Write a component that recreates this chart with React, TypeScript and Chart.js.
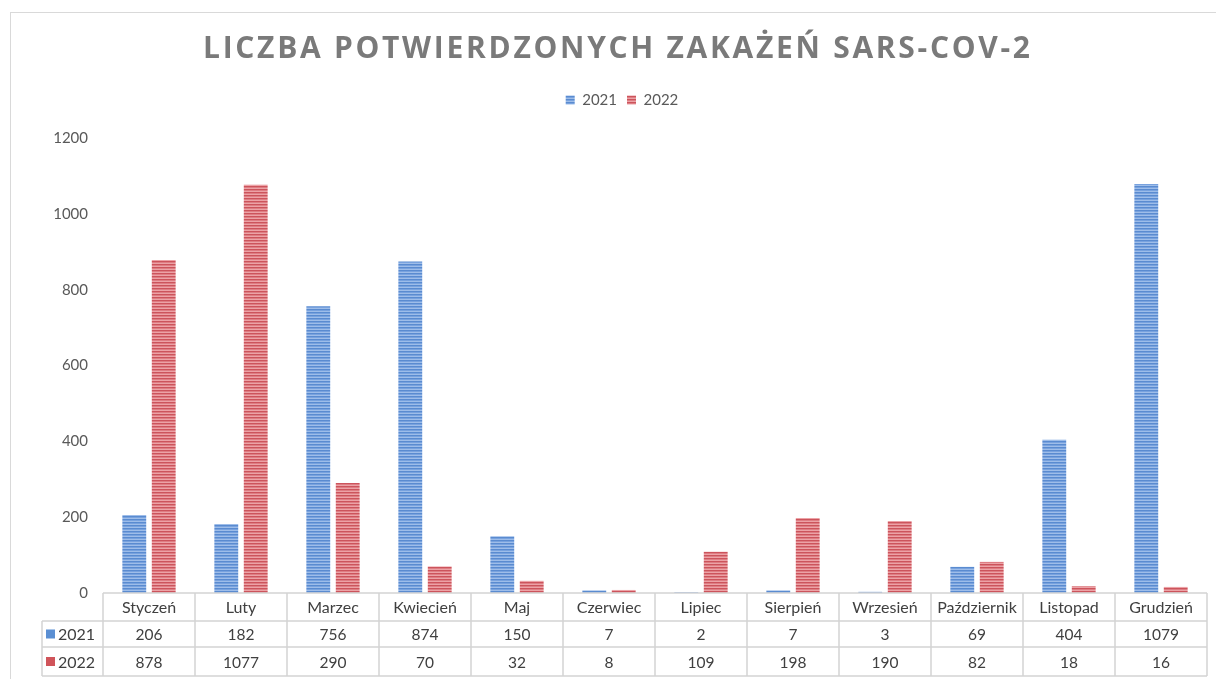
import React, { useEffect, useRef } from "react";
import { Chart, registerables } from "chart.js";

Chart.register(...registerables);

const TITLE = "LICZBA POTWIERDZONYCH ZAKAŻEŃ SARS-COV-2";
const categories = ["Styczeń", "Luty", "Marzec", "Kwiecień", "Maj", "Czerwiec", "Lipiec", "Sierpień", "Wrzesień", "Październik", "Listopad", "Grudzień"];
const seriesNames = ["2021", "2022"];
const values2021 = [206, 182, 756, 874, 150, 7, 2, 7, 3, 69, 404, 1079];
const values2022 = [878, 1077, 290, 70, 32, 8, 109, 198, 190, 82, 18, 16];
const yTicks = [0, 200, 400, 600, 800, 1000, 1200];

const FONT = "Lato, 'Open Sans', sans-serif";

function stripePattern(colors: string[]): CanvasPattern | string {
  const c = document.createElement("canvas");
  c.width = 4;
  c.height = colors.length;
  const g = c.getContext("2d");
  if (!g) return colors[0];
  colors.forEach((col, i) => {
    g.fillStyle = col;
    g.fillRect(0, i, 4, 1);
  });
  const p = g.createPattern(c, "repeat");
  return p || colors[0];
}

const legendSpacer = {
  id: "legendSpacer",
  beforeInit(chart: any) {
    const orig = chart.legend.fit;
    chart.legend.fit = function () {
      orig.bind(chart.legend)();
      this.height += 20.5;
    };
  },
};

const tablePlugin = {
  id: "tablePlugin",
  afterDraw(chart: any) {
    const ctx = chart.ctx as CanvasRenderingContext2D;
    const { left, right, bottom } = chart.chartArea;
    const xs = chart.scales.x;
    const n = categories.length;
    const cw = (right - left) / n;
    ctx.save();

    // outer frame
    ctx.strokeStyle = "#d9d9d9";
    ctx.lineWidth = 1;
    ctx.strokeRect(10.5, 12.5, 1240, 700);

    // title
    ctx.font = `bold 30px 'Open Sans', sans-serif`;
    ctx.fillStyle = "#7a7a7a";
    ctx.textBaseline = "middle";
    ctx.textAlign = "left";
    (ctx as any).letterSpacing = "0px";
    const w0 = ctx.measureText(TITLE).width;
    const targetW = 827;
    const ls = (targetW - w0) / (TITLE.length - 1);
    (ctx as any).letterSpacing = `${ls}px`;
    ctx.fillText(TITLE, 203, 49);
    (ctx as any).letterSpacing = "0px";

    // table grid
    const r0 = bottom;
    const r1 = bottom + 28;
    const r2 = bottom + 54;
    const r3 = bottom + 83;
    const tl = 42;
    ctx.strokeStyle = "#d4d4d4";
    ctx.lineWidth = 1.5;
    ctx.beginPath();
    ctx.moveTo(left, r0);
    ctx.lineTo(right, r0);
    [r1, r2, r3].forEach((y) => {
      ctx.moveTo(tl, y);
      ctx.lineTo(right, y);
    });
    ctx.moveTo(tl, r1);
    ctx.lineTo(tl, r3);
    for (let i = 0; i <= n; i++) {
      const x = i < n ? xs.getPixelForValue(i) - cw / 2 : xs.getPixelForValue(n - 1) + cw / 2;
      ctx.moveTo(x, r0);
      ctx.lineTo(x, r3);
    }
    ctx.stroke();

    // texts
    ctx.fillStyle = "#404040";
    ctx.textAlign = "center";
    ctx.textBaseline = "middle";
    categories.forEach((c, i) => {
      const x = xs.getPixelForValue(i);
      ctx.font = `16px ${FONT}`;
      ctx.fillText(c, x, (r0 + r1) / 2 + 1);
      ctx.font = `15.5px ${FONT}`;
      ctx.fillText(String(values2021[i]), x, (r1 + r2) / 2 + 1);
      ctx.fillText(String(values2022[i]), x, (r2 + r3) / 2 + 1);
    });

    // legend keys in table
    const keyColors = ["#5b8fd3", "#d0545a"];
    ctx.font = `16px ${FONT}`;
    [r1, r2].forEach((ry, k) => {
      const yc = ry + (k === 0 ? 13 : 14.5);
      ctx.fillStyle = keyColors[k];
      ctx.fillRect(46, yc - 4.5, 9, 9);
      ctx.fillStyle = "#404040";
      ctx.textAlign = "left";
      ctx.fillText(seriesNames[k], 58, yc + 1);
    });

    ctx.restore();
  },
};

export default function App() {
  const ref = useRef<HTMLCanvasElement | null>(null);
  useEffect(() => {
    if (!ref.current) return;
    const blue = stripePattern(["#5a8bd0", "#78a2de", "#9ebde9"]);
    const red = stripePattern(["#cc545c", "#de7d83", "#eca2a6"]);
    const chart = new Chart(ref.current, {
      type: "bar",
      data: {
        labels: categories,
        datasets: [
          { label: seriesNames[0], data: values2021, backgroundColor: blue as any, borderWidth: 0 },
          { label: seriesNames[1], data: values2022, backgroundColor: red as any, borderWidth: 0 },
        ],
      },
      options: {
        animation: false,
        responsive: true,
        maintainAspectRatio: false,
        datasets: { bar: { categoryPercentage: 0.64, barPercentage: 0.81 } },
        layout: { padding: { top: 82.5, left: 37, right: 9, bottom: 86 } },
        plugins: {
          title: { display: false },
          tooltip: { enabled: false },
          legend: {
            display: true,
            position: "top",
            labels: {
              boxWidth: 9,
              boxHeight: 9,
              padding: 10,
              color: "#595959",
              font: { family: FONT, size: 15 },
            },
          },
        },
        scales: {
          x: { display: false },
          y: {
            min: 0,
            max: 1200,
            afterBuildTicks: (s: any) => {
              s.ticks = yTicks.map((v) => ({ value: v }));
            },
            afterFit: (s: any) => {
              s.width = 66;
            },
            grid: { display: false, drawTicks: false },
            border: { display: false },
            ticks: {
              padding: 15,
              color: "#595959",
              font: { family: FONT, size: 15 },
              callback: (v: any) => String(v),
            },
          },
        },
      },
      plugins: [legendSpacer, tablePlugin],
    });
    return () => chart.destroy();
  }, []);
  return (
    <div style={{ position: "absolute", left: 0, top: 0, width: 1216, height: 679, background: "#fff" }}>
      <canvas ref={ref} />
    </div>
  );
}
